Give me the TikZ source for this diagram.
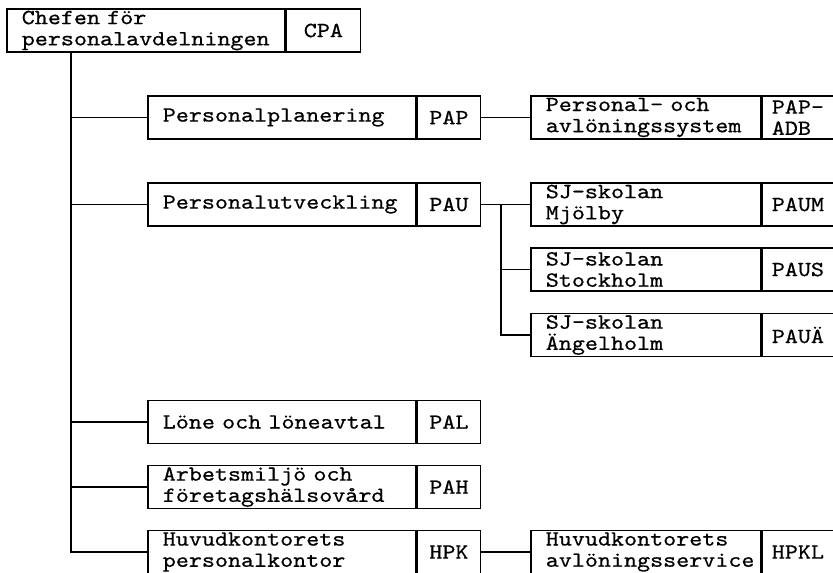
\documentclass[tikz,border=0pt]{standalone}
\usepackage{fontspec}
\newfontfamily\kontortt[FakeStretch=1.15,FakeBold=0.6]{Latin Modern Mono}
\newcommand\kontorfont{\kontortt\fontsize{10.8}{10.6}\selectfont}
\usepackage{tikz}
\usetikzlibrary{positioning}
\hfuzz=6pt

\tikzset{
  enhet/.style={draw,rectangle,line width=0.8pt,anchor=west,inner xsep=7.5pt,inner ysep=0pt,
    minimum height=21.5pt,align=left,font=\kontorfont},
  kod/.style={draw,rectangle,line width=0.8pt,inner sep=0pt,
    minimum height=21.5pt,align=left,font=\kontorfont},
  linje/.style={line width=0.8pt}
}

\begin{document}
\begin{tikzpicture}[x=0.5pt,y=-0.5pt]
    \path[use as bounding box,clip] (0,0) rectangle (833,572);
    \node[enhet,text width=124pt] (chef) at (6,30.5) {Chefen för\\personalavdelningen};
    \node[kod,right=0pt of chef,minimum width=37pt] (cpa) {CPA};
    \coordinate (stam) at (71,52);

    % avdelningar
    \node[enhet,text width=119pt] (pap) at (147,117.5) {Personalplanering};
    \node[kod,right=0pt of pap,minimum width=31.5pt] (papk) {PAP};
    \node[enhet,text width=119pt] (pau) at (147,204.5) {Personalutveckling};
    \node[kod,right=0pt of pau,minimum width=31.5pt] (pauk) {PAU};
    \node[enhet,text width=119pt] (pal) at (147,422) {Löne och löneavtal};
    \node[kod,right=0pt of pal,minimum width=31.5pt] (palk) {PAL};
    \node[enhet,text width=119pt] (pah) at (147,487) {Arbetsmiljö och\\företagshälsovård};
    \node[kod,right=0pt of pah,minimum width=31.5pt] (pahk) {PAH};
    \node[enhet,text width=119pt] (hpk) at (147,552) {Huvudkontorets\\personalkontor};
    \node[kod,right=0pt of hpk,minimum width=31.5pt] (hpkk) {HPK};

    % sektioner
    \node[enhet,text width=100pt] (adb) at (530,117.5) {Personal- och\\avlöningssystem};
    \node[kod,right=0pt of adb,minimum width=35.5pt] (adbk) {PAP-\\ADB};
    \node[enhet,text width=100pt] (paum) at (530,204.5) {SJ-skolan\\Mjölby};
    \node[kod,right=0pt of paum,minimum width=35.5pt] (paumk) {PAUM};
    \node[enhet,text width=100pt] (paus) at (530,269.5) {SJ-skolan\\Stockholm};
    \node[kod,right=0pt of paus,minimum width=35.5pt] (pausk) {PAUS};
    \node[enhet,text width=100pt] (pauae) at (530,335) {SJ-skolan\\Ängelholm};
    \node[kod,right=0pt of pauae,minimum width=35.5pt] (pauaek) {PAUÄ};
    \node[enhet,text width=100pt] (hpkl) at (530,552) {Huvudkontorets\\avlöningsservice};
    \node[kod,right=0pt of hpkl,minimum width=35.5pt] (hpklk) {HPKL};

    \draw[linje] (stam) |- (hpk.west);
    \foreach \avd in {pap,pau,pal,pah}
      \draw[linje] (stam |- \avd.west) -- (\avd.west);
    \draw[linje] (papk.east) -- (adb.west);
    \draw[linje] (hpkk.east) -- (hpkl.west);
    \coordinate (gren) at (pauk.east -| 501,0);
    \draw[linje] (pauk.east) -- (paum.west);
    \draw[linje] (gren) |- (paus.west);
    \draw[linje] (gren) |- (pauae.west);
  \end{tikzpicture}
\end{document}
